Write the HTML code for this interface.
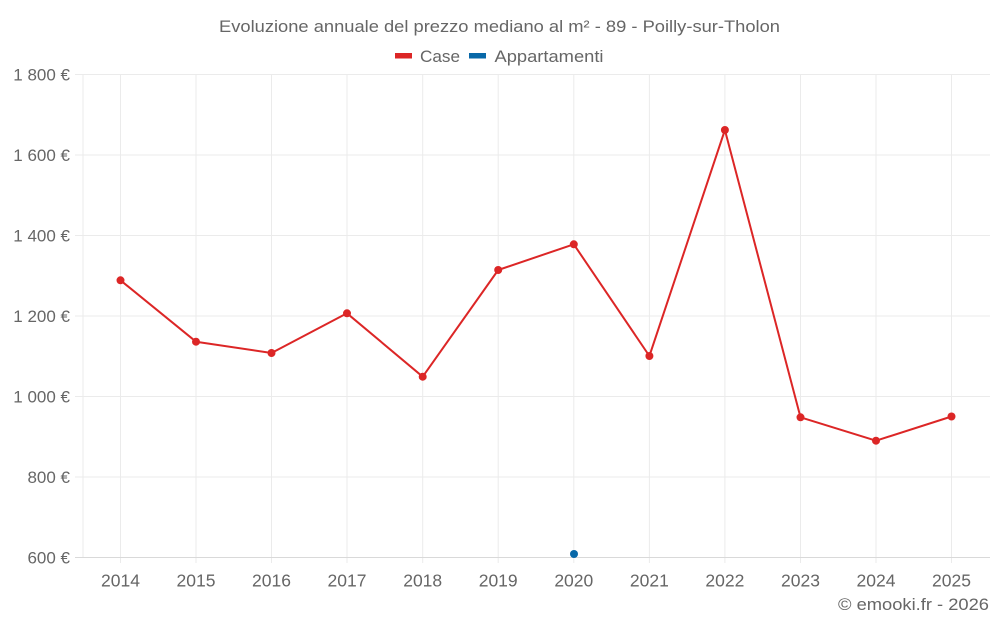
<!DOCTYPE html>
<html>
<head>
<meta charset="utf-8">
<style>
html,body{margin:0;padding:0;background:#fff;}
svg{display:block;font-family:"Liberation Sans",Arial,sans-serif;}
</style>
</head>
<body>
<svg width="1000" height="625" viewBox="0 0 1000 625" xmlns="http://www.w3.org/2000/svg">
<rect width="1000" height="625" fill="#fff"/>
<!-- horizontal grid -->
<g stroke="#ebebeb" stroke-width="1">
<line x1="75" y1="74.5" x2="990" y2="74.5"/>
<line x1="75" y1="155" x2="990" y2="155"/>
<line x1="75" y1="235.5" x2="990" y2="235.5"/>
<line x1="75" y1="316" x2="990" y2="316"/>
<line x1="75" y1="396.5" x2="990" y2="396.5"/>
<line x1="75" y1="477" x2="990" y2="477"/>
</g>
<!-- vertical grid -->
<g stroke="#ebebeb" stroke-width="1">
<line x1="83" y1="74" x2="83" y2="557"/>
<line x1="120.5" y1="74" x2="120.5" y2="563"/>
<line x1="196" y1="74" x2="196" y2="563"/>
<line x1="271.5" y1="74" x2="271.5" y2="563"/>
<line x1="347" y1="74" x2="347" y2="563"/>
<line x1="422.7" y1="74" x2="422.7" y2="563"/>
<line x1="498.2" y1="74" x2="498.2" y2="563"/>
<line x1="573.8" y1="74" x2="573.8" y2="563"/>
<line x1="649.4" y1="74" x2="649.4" y2="563"/>
<line x1="724.9" y1="74" x2="724.9" y2="563"/>
<line x1="800.5" y1="74" x2="800.5" y2="563"/>
<line x1="876" y1="74" x2="876" y2="563"/>
<line x1="951.5" y1="74" x2="951.5" y2="563"/>
</g>
<!-- x axis -->
<line x1="75" y1="557.5" x2="990" y2="557.5" stroke="#d9d9d9" stroke-width="1"/>

<!-- y labels -->
<g fill="#666" font-size="17" text-anchor="end">
<text x="70" y="80.5">1 800 €</text>
<text x="70" y="161">1 600 €</text>
<text x="70" y="241.5">1 400 €</text>
<text x="70" y="322">1 200 €</text>
<text x="70" y="402.5">1 000 €</text>
<text x="70" y="483">800 €</text>
<text x="70" y="563.5">600 €</text>
</g>
<!-- x labels -->
<g fill="#666" font-size="17.5" text-anchor="middle">
<text x="120.5" y="586.5">2014</text>
<text x="196" y="586.5">2015</text>
<text x="271.5" y="586.5">2016</text>
<text x="347" y="586.5">2017</text>
<text x="422.7" y="586.5">2018</text>
<text x="498.2" y="586.5">2019</text>
<text x="573.8" y="586.5">2020</text>
<text x="649.4" y="586.5">2021</text>
<text x="724.9" y="586.5">2022</text>
<text x="800.5" y="586.5">2023</text>
<text x="876" y="586.5">2024</text>
<text x="951.5" y="586.5">2025</text>
</g>

<!-- title -->
<text x="219" y="32" fill="#666" font-size="17" textLength="561" lengthAdjust="spacingAndGlyphs">Evoluzione annuale del prezzo mediano al m² - 89 - Poilly-sur-Tholon</text>

<!-- legend -->
<rect x="395" y="53" width="17" height="5.5" fill="#dc2626"/>
<text x="420" y="62" fill="#666" font-size="17" textLength="40" lengthAdjust="spacingAndGlyphs">Case</text>
<rect x="469" y="53" width="17" height="5.5" fill="#0868a8"/>
<text x="494.5" y="62" fill="#666" font-size="17" textLength="109" lengthAdjust="spacingAndGlyphs">Appartamenti</text>

<!-- Case series -->
<polyline fill="none" stroke="#dc2626" stroke-width="2" stroke-linejoin="round"
points="120.5,280.3 196,341.7 271.5,353 347,313.3 422.7,376.7 498.2,270 573.8,244.3 649.4,356 724.9,130 800.5,417.3 876,440.7 951.5,416.5"/>
<g fill="#dc2626">
<circle cx="120.5" cy="280.3" r="4"/>
<circle cx="196" cy="341.7" r="4"/>
<circle cx="271.5" cy="353" r="4"/>
<circle cx="347" cy="313.3" r="4"/>
<circle cx="422.7" cy="376.7" r="4"/>
<circle cx="498.2" cy="270" r="4"/>
<circle cx="573.8" cy="244.3" r="4"/>
<circle cx="649.4" cy="356" r="4"/>
<circle cx="724.9" cy="130" r="4"/>
<circle cx="800.5" cy="417.3" r="4"/>
<circle cx="876" cy="440.7" r="4"/>
<circle cx="951.5" cy="416.5" r="4"/>
</g>
<!-- Appartamenti -->
<circle cx="574" cy="554" r="4" fill="#0868a8"/>

<!-- credit -->
<text x="989" y="610" fill="#666" font-size="17" text-anchor="end" textLength="151" lengthAdjust="spacingAndGlyphs">© emooki.fr - 2026</text>
</svg>
</body>
</html>
